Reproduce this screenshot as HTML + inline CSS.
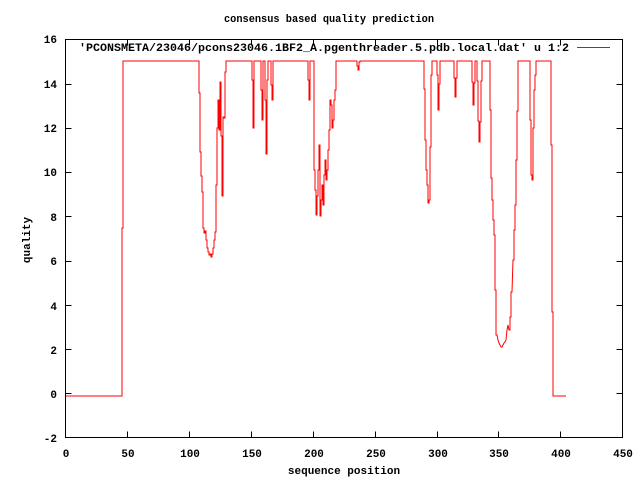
<!DOCTYPE html>
<html><head><meta charset="utf-8"><style>
html,body{margin:0;padding:0;background:#fff;width:640px;height:480px;overflow:hidden}
text{font-family:"Liberation Mono",monospace;font-weight:bold;font-size:11px;fill:#000}
</style></head><body>
<svg width="640" height="480" viewBox="0 0 640 480" xmlns="http://www.w3.org/2000/svg">
<rect width="640" height="480" fill="#fff"/>
<g stroke="#000" stroke-width="1" fill="none" shape-rendering="crispEdges">
<rect x="65.5" y="39.5" width="557" height="398"/>
<path d="M65.5 393.5h6M65.5 349.5h6M65.5 305.5h6M65.5 261.5h6M65.5 216.5h6M65.5 172.5h6M65.5 128.5h6M65.5 84.5h6"/>
<path d="M622.5 393.5h-6M622.5 349.5h-6M622.5 305.5h-6M622.5 261.5h-6M622.5 216.5h-6M622.5 172.5h-6M622.5 128.5h-6M622.5 84.5h-6"/>
<path d="M127.5 437.5v-6M189.5 437.5v-6M251.5 437.5v-6M313.5 437.5v-6M375.5 437.5v-6M437.5 437.5v-6M498.5 437.5v-6M560.5 437.5v-6"/>
<path d="M127.5 39.5v6M189.5 39.5v6M251.5 39.5v6M313.5 39.5v6M375.5 39.5v6M437.5 39.5v6M498.5 39.5v6M560.5 39.5v6"/>
</g>
<g text-anchor="end">
<text x="57" y="442">-2</text><text x="57" y="398">0</text><text x="57" y="354">2</text>
<text x="57" y="310">4</text><text x="57" y="265">6</text><text x="57" y="221">8</text>
<text x="57" y="176">10</text><text x="57" y="132">12</text><text x="57" y="88">14</text><text x="57" y="43">16</text>
</g>
<g text-anchor="middle">
<text x="66" y="457">0</text><text x="128" y="457">50</text><text x="190" y="457">100</text>
<text x="252" y="457">150</text><text x="314" y="457">200</text><text x="376" y="457">250</text>
<text x="438" y="457">300</text><text x="499" y="457">350</text><text x="561" y="457">400</text><text x="623" y="457">450</text>
<text x="344" y="474">sequence position</text>
<text x="329" y="22" textLength="210" lengthAdjust="spacingAndGlyphs">consensus based quality prediction</text>
<text transform="translate(30,240) rotate(-90)">quality</text>
</g>
<text x="569" y="51" text-anchor="end" textLength="490" lengthAdjust="spacingAndGlyphs">'PCONSMETA/23046/pcons23046.1BF2_A.pgenthreader.5.pdb.local.dat' u 1:2</text>
<rect x="577" y="47" width="33" height="1" fill="#f00"/>
<polyline fill="none" stroke="#f00" stroke-width="1" points="
66,396 122,396 122,228 123,228 123,61 199,61 199,93 200,93 200,152 201,152 201,176 202,176 202,192 203,192 203,228 204,228 204,233 205,233 205,231 206,231 206,240 207,240 207,248 208,248 208,252 209,252 209,255 210,255 210,254 211,254 211,257 212,257 212,254 213,254 213,248 214,248 214,240 215,240 215,232 216,232 216,185 217,185 217,128 218,128 218,100 219,100 219,130 220,130 220,82 221,82 221,136 222,136 222,196 223,196 223,117 224,117 224,118 225,118 225,72 226,72 226,61
252,61 252,80 253,80 253,128 254,128 254,61 261,61 261,90 262,90 262,120 263,120 263,61 265,61 265,100 266,100 266,154 267,154 267,80 268,80 268,61 271,61 271,85 272,85 272,100 273,100 273,61
308,61 308,80 309,80 309,100 310,100 310,61 312,61 312,61 314,61 314,170 315,170 315,190 316,190 316,215 317,215 317,196 318,196 318,170 319,170 319,145 320,145 320,216 321,216 321,200 322,200 322,185 323,185 323,205 324,205 324,175 325,175 325,160 326,160 326,180 327,180 327,170 328,170 328,150 329,150 329,130 330,130 330,100 331,100 331,105 332,105 332,128 333,128 333,120 334,120 334,100 335,100 335,90 336,90 336,61
357,61 357,66 358,66 358,70 359,70 359,62 360,62 360,61
424,61 424,89 425,89 425,140 426,140 426,170 427,170 427,185 428,185 428,203 429,203 429,200 430,200 430,147 431,147 431,75 432,75 432,61 437,61 437,75 438,75 438,110 439,110 439,84 440,84 440,61
454,61 454,78 455,78 455,97 456,97 456,78 457,78 457,61
472,61 472,82 473,82 473,105 474,105 474,83 475,83 475,61
477,61 477,81 478,81 478,121 479,121 479,142 480,142 480,122 481,122 481,81 482,81 482,61
490,61 490,110 491,110 491,178 492,178 492,200 493,200 493,220 494,220 494,235 495,235 495,290 496,290 496,335 497,335 498,340 499,343 500,345 501,347 502,347 503,345 504,343 505,342 506,340 507,330 508,325 509,330 510,330 510,317 511,317 511,292 512,292 512,292 513,260 514,260 514,230 515,230 515,205 516,205 516,160 517,160 517,111 518,111 518,61
530,61 530,120 531,120 531,175 532,175 532,180 533,180 533,128 534,128 534,90 535,90 535,75 536,75 536,61
551,61 551,145 552,145 552,312 553,312 553,396 566,396"/>
</svg>
</body></html>
